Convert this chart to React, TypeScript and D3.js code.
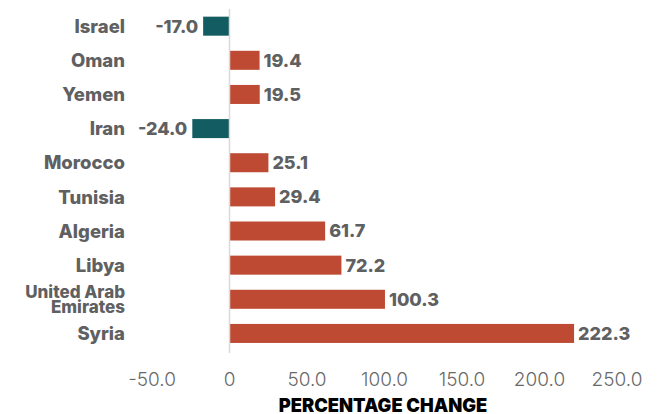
import React from "react";
import * as d3 from "d3";

const countries = ["Israel", "Oman", "Yemen", "Iran", "Morocco", "Tunisia", "Algeria", "Libya", "United Arab Emirates", "Syria"];
const values = [-17.0, 19.4, 19.5, -24.0, 25.1, 29.4, 61.7, 72.2, 100.3, 222.3];
const ticks = [-50, 0, 50, 100, 150, 200, 250];
const axisTitle = "PERCENTAGE CHANGE";

const W = 660, H = 414;
const POS = "#BE4A33";
const NEG = "#135C62";
const TXT = "#5F6062";
const FONT = "Inter, 'Open Sans', sans-serif";

export default function App() {
  const x = d3.scaleLinear().domain([-50, 250]).range([152, 617]);
  const y = d3.scaleBand<string>().domain(countries).range([9.1, 350.5]).paddingInner(0.443).paddingOuter(0.2215);
  const bw = y.bandwidth();
  const labelLines = (c: string) => (c === "United Arab Emirates" ? ["United Arab", "Emirates"] : [c]);
  return (
    <svg width={W} height={H} style={{ position: "absolute", left: 0, top: 0, background: "#fff" }}>
      {countries.map((c, i) => {
        const v = values[i];
        const yc = (y(c) as number) + bw / 2;
        const x0 = x(Math.min(0, v));
        const x1 = x(Math.max(0, v));
        const lines = labelLines(c);
        return (
          <g key={c}>
            <rect x={x0} y={y(c)} width={x1 - x0} height={bw} fill={v < 0 ? NEG : POS} />
            <text
              x={v < 0 ? x0 - 5 : x1 + 4}
              y={yc}
              dy="0.36em"
              textAnchor={v < 0 ? "end" : "start"}
              fontFamily={FONT}
              fontWeight={800}
              fontSize={18}
              fill={TXT}
            >
              {v.toFixed(1)}
            </text>
            <text x={125} y={yc} textAnchor="end" fontFamily={FONT} fontWeight={800} fontSize={lines.length > 1 ? 17 : 18.5} fill={TXT}>
              {lines.map((l, k) => (
                <tspan key={k} x={125} y={yc + (k - (lines.length - 1) / 2) * 15} dy="0.36em">
                  {l}
                </tspan>
              ))}
            </text>
          </g>
        );
      })}
      <line x1={x(0)} x2={x(0)} y1={9} y2={353} stroke="#D9D9D9" strokeWidth={1.5} />
      {ticks.map((t) => (
        <text key={t} x={x(t)} y={379} dy="0.36em" textAnchor="middle" fontFamily={FONT} fontWeight={300} fontSize={19} fill="#6A6A6A">
          {t === 0 ? "0" : t.toFixed(1)}
        </text>
      ))}
      <text x={383} y={411.5} textAnchor="middle" fontFamily={FONT} fontWeight={900} fontSize={18.3} fill="#000" letterSpacing={0}>
        {axisTitle}
      </text>
    </svg>
  );
}
